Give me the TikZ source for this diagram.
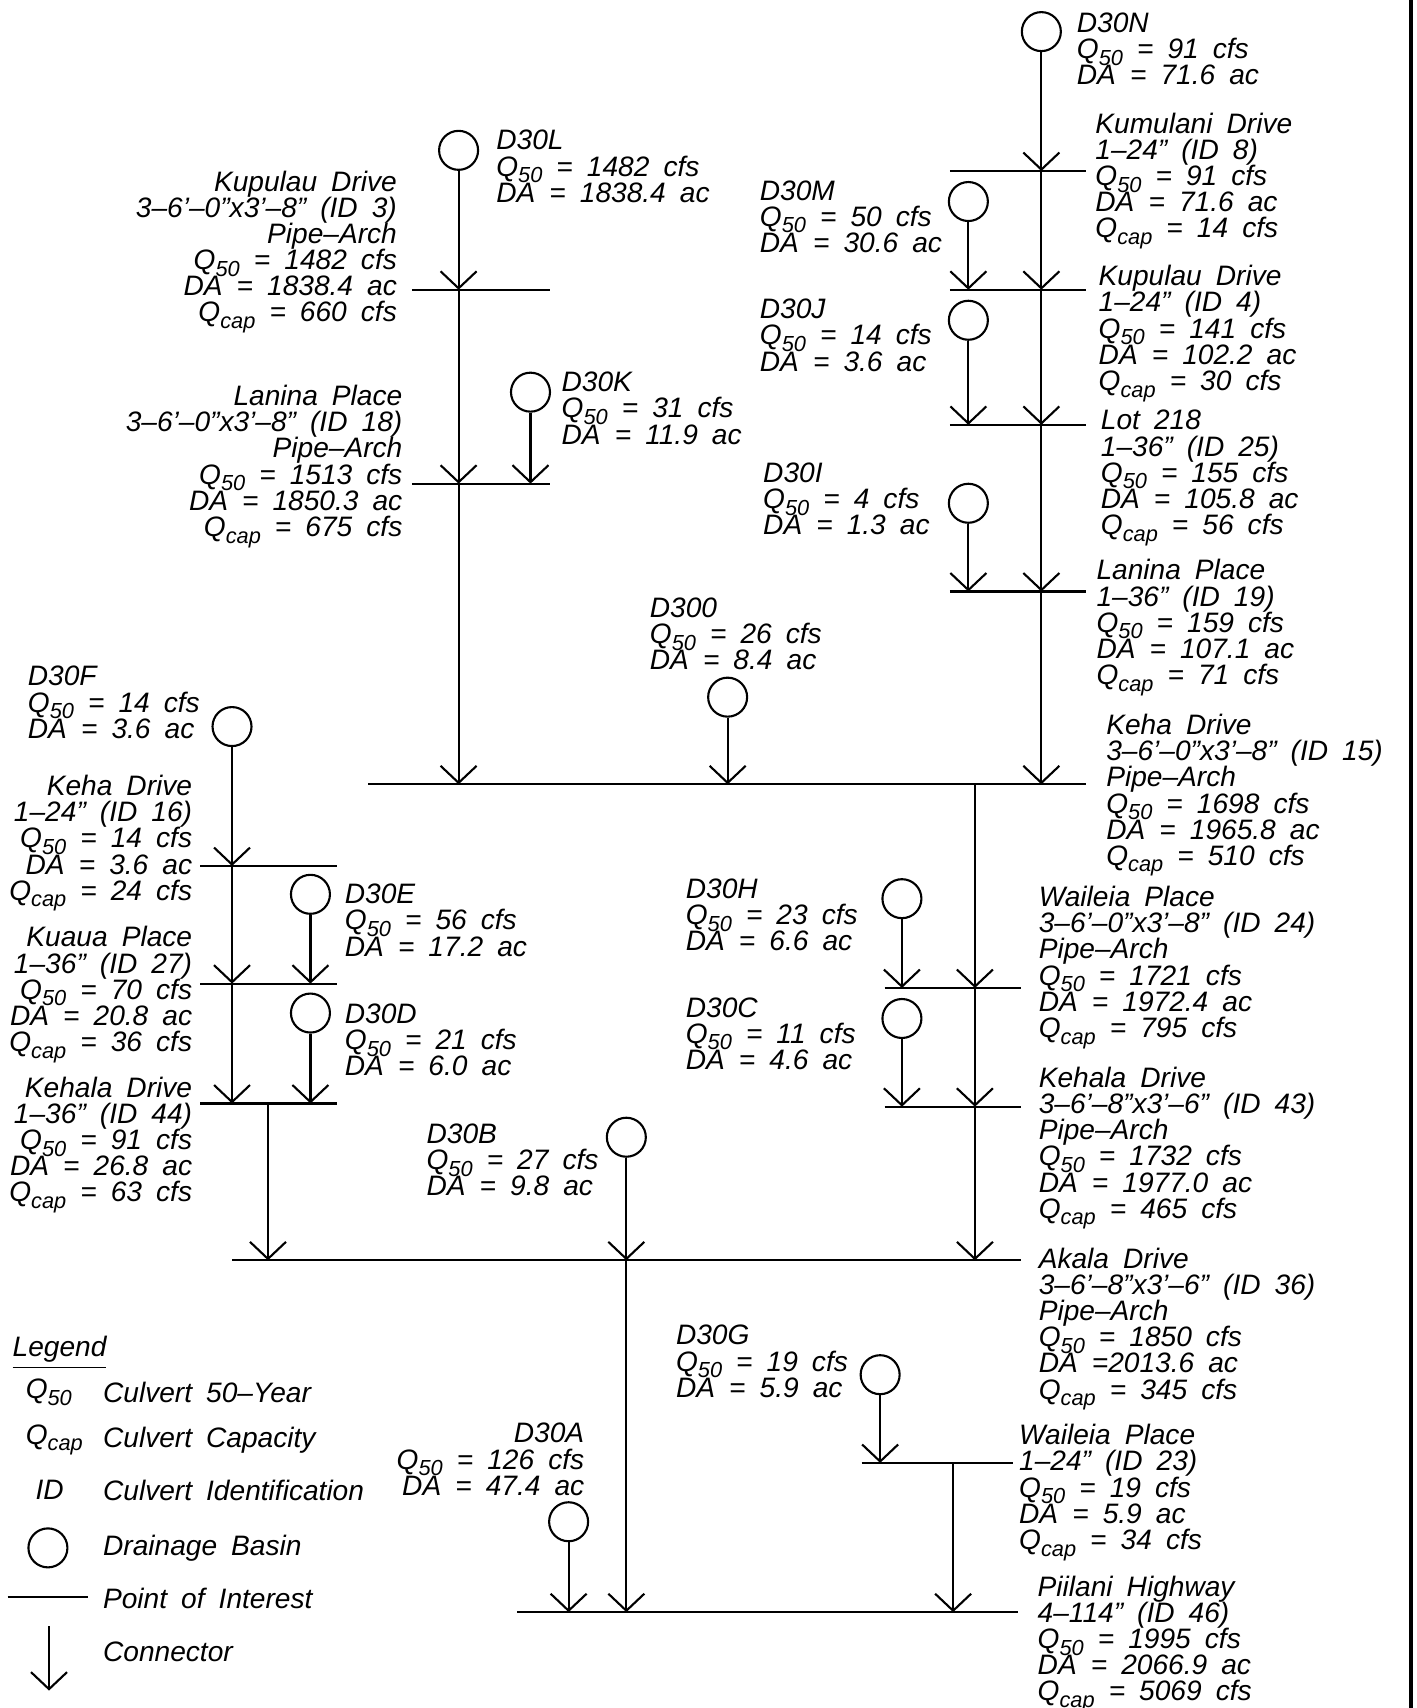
\documentclass[tikz,border=0pt]{standalone}
\usepackage{fontspec}
\setmainfont{Liberation Sans}
\usetikzlibrary{arrows.meta,positioning}
\lineskiplimit=-20pt
\newcommand{\lblfont}{\fontsize{8}{7.44}\selectfont\itshape\spaceskip=4pt\relax}
\newcommand{\Qsub}[1]{Q\raisebox{-0.45ex}{\fontsize{6.2}{6}\selectfont #1}}
\newcommand{\Qf}{\Qsub{50}}
\newcommand{\Qc}{\Qsub{cap}}
\tikzset{
  basin/.style={draw, circle, line width=0.6pt, minimum size=3.9mm, inner sep=0pt},
  poi/.style={line width=0.6pt},
  conn/.style={line width=0.6pt, -{Straight Barb[length=1.7mm, width=3.6mm]}},
  lbl/.style={inner sep=0pt, align=left, anchor=north west, font=\lblfont},
  lblr/.style={lbl, align=right, anchor=north east}
}

\begin{document}
\begin{tikzpicture}[x=0.010892cm, y=-0.010892cm]
  \useasboundingbox (0,0) rectangle (1300,1568);
  % frame edge on the right
  \draw[line width=1.1pt] (1295,0) -- (1295,1568);

  % drainage basins
  \node[basin] (d30n) at (956,29) {};
  \node[basin] (d30l) at (421,138) {};
  \node[basin] (d30m) at (889,185) {};
  \node[basin] (d30j) at (889,294) {};
  \node[basin] (d30k) at (487,360) {};
  \node[basin] (d30i) at (889,462) {};
  \node[basin] (d30o) at (668,640) {};
  \node[basin] (d30f) at (213,667) {};
  \node[basin] (d30e) at (285,821) {};
  \node[basin] (d30h) at (828,825) {};
  \node[basin] (d30d) at (285,930) {};
  \node[basin] (d30c) at (828,935) {};
  \node[basin] (d30b) at (575,1044) {};
  \node[basin] (d30g) at (808,1262) {};
  \node[basin] (d30a) at (522,1397) {};

  % points of interest
  \coordinate (kumW) at (872,157);   \coordinate (kumE) at (997,157);
  \coordinate (kup4W) at (872,266);  \coordinate (kup4E) at (997,266);
  \coordinate (lotW) at (872,390);   \coordinate (lotE) at (997,390);
  \coordinate (lan19W) at (872,543); \coordinate (lan19E) at (997,543);
  \coordinate (kup3W) at (378,266);  \coordinate (kup3E) at (505,266);
  \coordinate (lan18W) at (378,444); \coordinate (lan18E) at (505,444);
  \coordinate (keh15W) at (338,720); \coordinate (keh15E) at (997,720);
  \coordinate (keh16W) at (184,795); \coordinate (keh16E) at (309,795);
  \coordinate (kuaW) at (184,903);   \coordinate (kuaE) at (309,903);
  \coordinate (keh44W) at (184,1013); \coordinate (keh44E) at (309,1013);
  \coordinate (wai24W) at (812,907); \coordinate (wai24E) at (937,907);
  \coordinate (keh43W) at (812,1016); \coordinate (keh43E) at (937,1016);
  \coordinate (akaW) at (213,1157);  \coordinate (akaE) at (937,1157);
  \coordinate (wai23W) at (791,1343); \coordinate (wai23E) at (930,1343);
  \coordinate (piiW) at (475,1480);  \coordinate (piiE) at (935,1480);
  \foreach \p in {kum,kup4,lot,lan19,kup3,lan18,keh15,keh16,kua,keh44,wai24,keh43,aka,wai23,pii}
    \draw[poi] (\p W) -- (\p E);

  % junctions on the trunks
  \coordinate (jL) at (421,266);
  \coordinate (jR) at (956,157);
  \coordinate (jF) at (213,795);
  \coordinate (jH) at (895,720);
  \coordinate (jK) at (246,1013);
  \coordinate (jB) at (575,1157);
  \coordinate (jW) at (875,1343);

  % connectors, left upper trunk
  \draw[conn] (d30l) -- (d30l |- kup3W);
  \draw[conn] (jL) -- (jL |- lan18W);
  \draw[conn] (jL |- lan18W) -- (jL |- keh15W);
  \draw[conn] (d30k) -- (d30k |- lan18W);
  \draw[conn] (d30o) -- (d30o |- keh15W);

  % connectors, right upper trunk
  \draw[conn] (d30n) -- (jR);
  \draw[conn] (jR) -- (jR |- kup4W);
  \draw[conn] (jR |- kup4W) -- (jR |- lotW);
  \draw[conn] (jR |- lotW) -- (jR |- lan19W);
  \draw[conn] (jR |- lan19W) -- (jR |- keh15W);
  \draw[conn] (d30m) -- (d30m |- kup4W);
  \draw[conn] (d30j) -- (d30j |- lotW);
  \draw[conn] (d30i) -- (d30i |- lan19W);

  % connectors, middle trunk
  \draw[conn] (jH) -- (jH |- wai24W);
  \draw[conn] (jH |- wai24W) -- (jH |- keh43W);
  \draw[conn] (jH |- keh43W) -- (jH |- akaW);
  \draw[conn] (d30h) -- (d30h |- wai24W);
  \draw[conn] (d30c) -- (d30c |- keh43W);

  % connectors, left lower trunk
  \draw[conn] (d30f) -- (jF);
  \draw[conn] (jF) -- (jF |- kuaW);
  \draw[conn] (jF |- kuaW) -- (jF |- keh44W);
  \draw[conn] (d30e) -- (d30e |- kuaW);
  \draw[conn] (d30d) -- (d30d |- keh44W);
  \draw[conn] (jK) -- (jK |- akaW);

  % connectors to the outlet
  \draw[conn] (d30b) -- (jB);
  \draw[conn] (jB) -- (jB |- piiW);
  \draw[conn] (d30g) -- (d30g |- wai23W);
  \draw[conn] (jW) -- (jW |- piiW);
  \draw[conn] (d30a) -- (d30a |- piiW);

  % basin labels
  \node[lbl] (t30n) at (988,11) {D30N\\\Qf{} = 91 cfs\\DA = 71.6 ac};
  \node[lbl] (t30l) at (455,119) {D30L\\\Qf{} = 1482 cfs\\DA = 1838.4 ac};
  \node[lbl] (t30m) at (697,165) {D30M\\\Qf{} = 50 cfs\\DA = 30.6 ac};
  \node[lbl] (t30j) at (697,274) {D30J\\\Qf{} = 14 cfs\\DA = 3.6 ac};
  \node[lbl] (t30k) at (515,341) {D30K\\\Qf{} = 31 cfs\\DA = 11.9 ac};
  \node[lbl] (t30i) at (700,424) {D30I\\\Qf{} = 4 cfs\\DA = 1.3 ac};
  \node[lbl] (t30o) at (596,548) {D300\\\Qf{} = 26 cfs\\DA = 8.4 ac};
  \node[lbl] (t30f) at (25,611) {D30F\\\Qf{} = 14 cfs\\DA = 3.6 ac};
  \node[lbl] (t30e) at (316,811) {D30E\\\Qf{} = 56 cfs\\DA = 17.2 ac};
  \node[lbl] (t30h) at (629,806) {D30H\\\Qf{} = 23 cfs\\DA = 6.6 ac};
  \node[lbl] (t30d) at (316,921) {D30D\\\Qf{} = 21 cfs\\DA = 6.0 ac};
  \node[lbl] (t30c) at (629,915) {D30C\\\Qf{} = 11 cfs\\DA = 4.6 ac};
  \node[lbl] (t30b) at (391,1031) {D30B\\\Qf{} = 27 cfs\\DA = 9.8 ac};
  \node[lbl] (t30g) at (620,1216) {D30G\\\Qf{} = 19 cfs\\DA = 5.9 ac};
  \node[lblr] (t30a) at (537,1306) {D30A\\\Qf{} = 126 cfs\\DA = 47.4 ac};

  % culvert labels
  \node[lbl] (tkum) at (1005,103) {Kumulani Drive\\1--24'' (ID 8)\\\Qf{} = 91 cfs\\DA = 71.6 ac\\\Qc{} = 14 cfs};
  \node[lbl] (tkup4) at (1008,243) {Kupulau Drive\\1--24'' (ID 4)\\\Qf{} = 141 cfs\\DA = 102.2 ac\\\Qc{} = 30 cfs};
  \node[lbl] (tlot) at (1010,376) {Lot 218\\1--36'' (ID 25)\\\Qf{} = 155 cfs\\DA = 105.8 ac\\\Qc{} = 56 cfs};
  \node[lbl] (tlan19) at (1006,513) {Lanina Place\\1--36'' (ID 19)\\\Qf{} = 159 cfs\\DA = 107.1 ac\\\Qc{} = 71 cfs};
  \node[lbl] (tkeh15) at (1015,655) {Keha Drive\\3--6'--0''x3'--8'' (ID 15)\\Pipe--Arch\\\Qf{} = 1698 cfs\\DA = 1965.8 ac\\\Qc{} = 510 cfs};
  \node[lblr] (tkup3) at (365,156) {Kupulau Drive\\3--6'--0''x3'--8'' (ID 3)\\Pipe--Arch\\\Qf{} = 1482 cfs\\DA = 1838.4 ac\\\Qc{} = 660 cfs};
  \node[lblr] (tlan18) at (370,353) {Lanina Place\\3--6'--0''x3'--8'' (ID 18)\\Pipe--Arch\\\Qf{} = 1513 cfs\\DA = 1850.3 ac\\\Qc{} = 675 cfs};
  \node[lblr] (tkeh16) at (177,711) {Keha Drive\\1--24'' (ID 16)\\\Qf{} = 14 cfs\\DA = 3.6 ac\\\Qc{} = 24 cfs};
  \node[lblr] (tkua) at (177,850) {Kuaua Place\\1--36'' (ID 27)\\\Qf{} = 70 cfs\\DA = 20.8 ac\\\Qc{} = 36 cfs};
  \node[lblr] (tkeh44) at (177,988) {Kehala Drive\\1--36'' (ID 44)\\\Qf{} = 91 cfs\\DA = 26.8 ac\\\Qc{} = 63 cfs};
  \node[lbl] (twai24) at (953,813) {Waileia Place\\3--6'--0''x3'--8'' (ID 24)\\Pipe--Arch\\\Qf{} = 1721 cfs\\DA = 1972.4 ac\\\Qc{} = 795 cfs};
  \node[lbl] (tkeh43) at (953,979) {Kehala Drive\\3--6'--8''x3'--6'' (ID 43)\\Pipe--Arch\\\Qf{} = 1732 cfs\\DA = 1977.0 ac\\\Qc{} = 465 cfs};
  \node[lbl] (taka) at (953,1145) {Akala Drive\\3--6'--8''x3'--6'' (ID 36)\\Pipe--Arch\\\Qf{} = 1850 cfs\\DA =2013.6 ac\\\Qc{} = 345 cfs};
  \node[lbl] (twai23) at (935,1307) {Waileia Place\\1--24'' (ID 23)\\\Qf{} = 19 cfs\\DA = 5.9 ac\\\Qc{} = 34 cfs};
  \node[lbl] (tpii) at (952,1446) {Piilani Highway\\4--114'' (ID 46)\\\Qf{} = 1995 cfs\\DA = 2066.9 ac\\\Qc{} = 5069 cfs};

  % legend
  \node[lbl, anchor=west] (leg) at (11,1242) {\underline{Legend}};
  \node[lbl, anchor=west] (legq) at (23,1278) {\Qf};
  \node[lbl, anchor=west] (legqt) at (94,1278) {Culvert 50--Year};
  \node[lbl, anchor=west] (legc) at (23,1322) {\Qc};
  \node[lbl, anchor=west] (legct) at (94,1322) {Culvert Capacity};
  \node[lbl, anchor=west] (legi) at (32,1368) {ID};
  \node[lbl, anchor=west] (legit) at (94,1368) {Culvert Identification};
  \node[basin] (legb) at (44,1421) {};
  \node[lbl, anchor=west] (legbt) at (94,1421) {Drainage Basin};
  \coordinate (legpW) at (7,1466); \coordinate (legpE) at (81,1466);
  \draw[poi] (legpW) -- (legpE);
  \node[lbl, anchor=west] (legpt) at (94,1467) {Point of Interest};
  \coordinate (legaT) at (45,1493); \coordinate (legaB) at (45,1552);
  \draw[conn] (legaT) -- (legaB);
  \node[lbl, anchor=west] (legat) at (94,1516) {Connector};
\end{tikzpicture}
\end{document}
